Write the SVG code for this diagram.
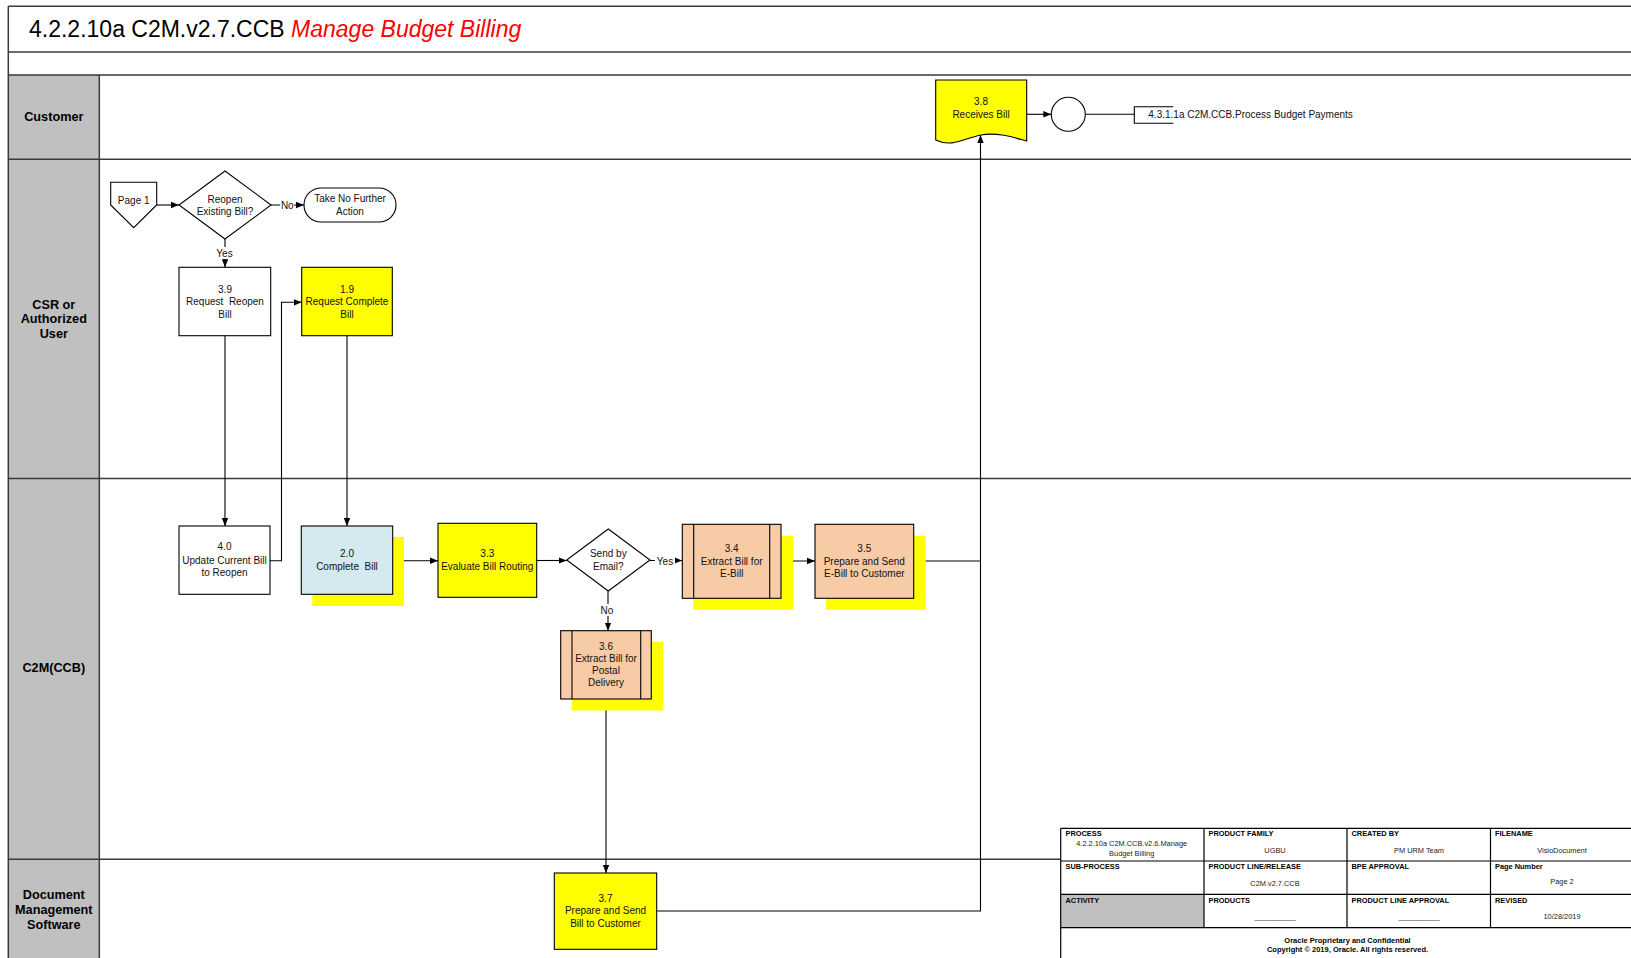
<svg xmlns="http://www.w3.org/2000/svg" width="1631" height="958" viewBox="0 0 1631 958">
<defs>
<marker id="arr" markerUnits="userSpaceOnUse" markerWidth="8" markerHeight="8" viewBox="0 0 8 8" refX="8" refY="4" orient="auto">
<path d="M0,0.8 L8,4 L0,7.2 Z" fill="#000"/>
</marker>
<style>
.frame{fill:none;stroke:#3a3a3a;stroke-width:1.5}
.lane{fill:#c0c0c0;stroke:none}
.lt{font-family:"Liberation Sans",Arial,sans-serif;font-size:12.7px;font-weight:bold;fill:#000;text-anchor:middle}
.box{stroke:#000;stroke-width:1.1}
.wh{fill:#fff}
.ye{fill:#ffff00}
.pe{fill:#f8cba7}
.bl{fill:#d4eaf0}
.sh{fill:#ffff00;stroke:none}
.t{font-family:"Liberation Sans",Arial,sans-serif;font-size:10px;fill:#111;text-anchor:middle}
.tl{font-family:"Liberation Sans",Arial,sans-serif;font-size:10px;fill:#111}
.c{fill:none;stroke:#000;stroke-width:1.1}
.tb{fill:none;stroke:#000;stroke-width:1.2}
.th{font-family:"Liberation Sans",Arial,sans-serif;font-size:7.4px;font-weight:bold;fill:#000}
.tv{font-family:"Liberation Sans",Arial,sans-serif;font-size:7.4px;fill:#222;text-anchor:middle}
.tf{font-family:"Liberation Sans",Arial,sans-serif;font-size:7.5px;font-weight:bold;fill:#000;text-anchor:middle}
</style>
</defs>
<rect width="1631" height="958" fill="#fff"/>

<g id="frame">
<rect class="lane" x="8.3" y="74.9" width="91" height="884"/>
<line class="frame" x1="8.3" y1="6.2" x2="1631" y2="6.2"/>
<line class="frame" x1="8.3" y1="6.2" x2="8.3" y2="958"/>
<line class="frame" x1="8.3" y1="52" x2="1631" y2="52"/>
<line class="frame" x1="8.3" y1="74.9" x2="1631" y2="74.9"/>
<line class="frame" x1="8.3" y1="159.2" x2="1631" y2="159.2"/>
<line class="frame" x1="8.3" y1="478.5" x2="1631" y2="478.5"/>
<line class="frame" x1="8.3" y1="859.2" x2="1060.7" y2="859.2"/>
<line class="frame" x1="99.3" y1="74.9" x2="99.3" y2="958"/>
<text x="29" y="36.5" font-family="'Liberation Sans',Arial,sans-serif" font-size="23px" fill="#000">4.2.2.10a C2M.v2.7.CCB <tspan fill="#ff0000" font-style="italic">Manage Budget Billing</tspan></text>
</g>

<g id="lanes">
<text class="lt" x="53.8" y="121">Customer</text>
<text class="lt" x="53.8" y="308.5">CSR or</text>
<text class="lt" x="53.8" y="323.2">Authorized</text>
<text class="lt" x="53.8" y="337.9">User</text>
<text class="lt" x="53.8" y="671.5">C2M(CCB)</text>
<text class="lt" x="53.8" y="899.2">Document</text>
<text class="lt" x="53.8" y="913.9">Management</text>
<text class="lt" x="53.8" y="928.6">Software</text>
</g>

<g id="connectors">
<path class="c" d="M156.7,205 H179" marker-end="url(#arr)"/>
<path class="c" d="M270.7,205 H304" marker-end="url(#arr)"/>
<path class="c" d="M225,239 V267.3" marker-end="url(#arr)"/>
<path class="c" d="M225,335.7 V526" marker-end="url(#arr)"/>
<path class="c" d="M270,560.7 H281.5 V302.3 H301.7" marker-end="url(#arr)"/>
<path class="c" d="M347,335.7 V526" marker-end="url(#arr)"/>
<path class="c" d="M392.7,560.7 H438" marker-end="url(#arr)"/>
<path class="c" d="M536.7,560.5 H566.7" marker-end="url(#arr)"/>
<path class="c" d="M650,560.5 H682.3" marker-end="url(#arr)"/>
<path class="c" d="M781,561 H815" marker-end="url(#arr)"/>
<path class="c" d="M913.7,561 H980.5 V135" marker-end="url(#arr)"/>
<path class="c" d="M608,591 V630.7" marker-end="url(#arr)"/>
<path class="c" d="M606,699 V873" marker-end="url(#arr)"/>
<path class="c" d="M656.7,911 H980.5 V561"/>
<path class="c" d="M1026.7,114.3 H1051.3" marker-end="url(#arr)"/>
<path class="c" d="M1085.3,114.3 H1134.3"/>
<rect x="280" y="199" width="14" height="12" fill="#fff"/>
<text class="t" x="287.3" y="208.7">No</text>
<rect x="215" y="247" width="19" height="12" fill="#fff"/>
<text class="t" x="224.5" y="256.8">Yes</text>
<rect x="655" y="555" width="20" height="12" fill="#fff"/>
<text class="t" x="665" y="564.5">Yes</text>
<rect x="600" y="604" width="14" height="12" fill="#fff"/>
<text class="t" x="607" y="613.7">No</text>
</g>

<g id="page1">
<path class="box wh" d="M110.7,182.3 H156.7 V205 L133.7,227.7 L110.7,205 Z"/>
<text class="t" x="133.7" y="203.5">Page 1</text>
</g>

<g id="d1">
<path class="box wh" d="M225,171 L271,205 L225,239 L179,205 Z"/>
<text class="t" x="225" y="202.8">Reopen</text>
<text class="t" x="225" y="214.6">Existing Bill?</text>
</g>

<g id="term">
<rect class="box wh" x="304" y="188" width="92" height="34" rx="17" ry="17"/>
<text class="t" x="350" y="202.1">Take No Further</text>
<text class="t" x="350" y="214.5">Action</text>
</g>

<g id="n39">
<rect class="box wh" x="179" y="267.3" width="91.7" height="68.4"/>
<text class="t" x="225" y="293">3.9</text>
<text class="t" x="225" y="305.4" xml:space="preserve">Request  Reopen</text>
<text class="t" x="225" y="317.8">Bill</text>
</g>

<g id="n19">
<rect class="box ye" x="301.7" y="267.3" width="90.6" height="68.4"/>
<text class="t" x="347" y="293">1.9</text>
<text class="t" x="347" y="305.4">Request Complete</text>
<text class="t" x="347" y="317.8">Bill</text>
</g>

<g id="n40">
<rect class="box wh" x="179" y="526" width="91" height="68.3"/>
<text class="t" x="224.5" y="550.4">4.0</text>
<text class="t" x="224.5" y="563.6">Update Current Bill</text>
<text class="t" x="224.5" y="576.4">to Reopen</text>
</g>

<g id="n20">
<rect class="sh" x="312.3" y="537" width="91.7" height="69"/>
<rect class="box bl" x="301.3" y="526" width="91.4" height="68.3"/>
<text class="t" x="347" y="557">2.0</text>
<text class="t" x="347" y="570.4" xml:space="preserve">Complete  Bill</text>
</g>

<g id="n33">
<rect class="box ye" x="438" y="523.3" width="98.7" height="74"/>
<text class="t" x="487.3" y="557">3.3</text>
<text class="t" x="487.3" y="570.4">Evaluate Bill Routing</text>
</g>

<g id="d2">
<path class="box wh" d="M608.3,529 L650,560 L608.3,591 L566.7,560 Z"/>
<text class="t" x="608.3" y="557">Send by</text>
<text class="t" x="608.3" y="569.7">Email?</text>
</g>

<g id="n34">
<rect class="sh" x="693.3" y="535.7" width="99.7" height="74"/>
<rect class="box pe" x="682.3" y="524.3" width="98.7" height="74"/>
<path class="c" d="M693.7,524.3 V598.3 M769.7,524.3 V598.3"/>
<text class="t" x="731.7" y="552.4">3.4</text>
<text class="t" x="731.7" y="565.4">Extract Bill for</text>
<text class="t" x="731.7" y="577">E-Bill</text>
</g>

<g id="n35">
<rect class="sh" x="826" y="535.7" width="99.7" height="74"/>
<rect class="box pe" x="815" y="524.3" width="98.7" height="74"/>
<text class="t" x="864.3" y="552.4">3.5</text>
<text class="t" x="864.3" y="565.4">Prepare and Send</text>
<text class="t" x="864.3" y="577">E-Bill to Customer</text>
</g>

<g id="n36">
<rect class="sh" x="571.7" y="641.7" width="91.6" height="68.8"/>
<rect class="box pe" x="560.7" y="630.7" width="90.6" height="68.3"/>
<path class="c" d="M572,630.7 V699 M640.7,630.7 V699"/>
<text class="t" x="606" y="649.7">3.6</text>
<text class="t" x="606" y="662">Extract Bill for</text>
<text class="t" x="606" y="674.4">Postal</text>
<text class="t" x="606" y="686.4">Delivery</text>
</g>

<g id="n37">
<rect class="box ye" x="554.3" y="873" width="102.4" height="76.3"/>
<text class="t" x="605.5" y="902">3.7</text>
<text class="t" x="605.5" y="914.4">Prepare and Send</text>
<text class="t" x="605.5" y="927">Bill to Customer</text>
</g>

<g id="n38">
<path class="box ye" d="M935.7,80 H1026.7 V141 C1012,137 996,132 981,135 C965,138 952,148 935.7,140 Z"/>
<text class="t" x="981" y="105.4">3.8</text>
<text class="t" x="981" y="118">Receives Bill</text>
</g>

<g id="circle">
<circle class="box wh" cx="1068.3" cy="114.3" r="17"/>
</g>

<g id="offpage">
<path class="c" d="M1173.3,106.7 H1134.3 V123.3 H1173.3"/>
<text class="tl" x="1148.3" y="117.8">4.3.1.1a C2M.CCB.Process Budget Payments</text>
</g>

<g id="titleblock">
<rect x="1060.7" y="894.3" width="143.3" height="33.4" fill="#c0c0c0"/>
<path class="tb" d="M1060.7,828.3 H1631 M1060.7,861 H1631 M1060.7,894.3 H1631 M1060.7,927.7 H1631 M1060.7,828.3 V958 M1204,828.3 V927.7 M1347,828.3 V927.7 M1490.5,828.3 V927.7"/>
<text class="th" x="1065.5" y="836">PROCESS</text>
<text class="tv" x="1131.7" y="846">4.2.2.10a C2M.CCB.v2.6.Manage</text>
<text class="tv" x="1131.7" y="856">Budget Billing</text>
<text class="th" x="1065.5" y="868.7">SUB-PROCESS</text>
<text class="th" x="1065.5" y="902.5">ACTIVITY</text>
<text class="th" x="1208.5" y="836">PRODUCT FAMILY</text>
<text class="tv" x="1275" y="852.7">UGBU</text>
<text class="th" x="1208.5" y="868.7">PRODUCT LINE/RELEASE</text>
<text class="tv" x="1275" y="886">C2M.v2.7.CCB</text>
<text class="th" x="1208.5" y="902.5">PRODUCTS</text>
<text class="tv" x="1275" y="918.5">__________</text>
<text class="th" x="1351.5" y="836">CREATED BY</text>
<text class="tv" x="1419" y="852.7">PM URM Team</text>
<text class="th" x="1351.5" y="868.7">BPE APPROVAL</text>
<text class="th" x="1351.5" y="902.5">PRODUCT LINE APPROVAL</text>
<text class="tv" x="1419" y="918.5">__________</text>
<text class="th" x="1495" y="836">FILENAME</text>
<text class="tv" x="1562" y="852.7">VisioDocument</text>
<text class="th" x="1495" y="868.7">Page Number</text>
<text class="tv" x="1562" y="884">Page 2</text>
<text class="th" x="1495" y="902.5">REVISED</text>
<text class="tv" x="1562" y="919">10/28/2019</text>
<text class="tf" x="1347.5" y="943">Oracle Proprietary and Confidential</text>
<text class="tf" x="1347.5" y="952.4">Copyright © 2019, Oracle. All rights reserved.</text>
</g>
</svg>
